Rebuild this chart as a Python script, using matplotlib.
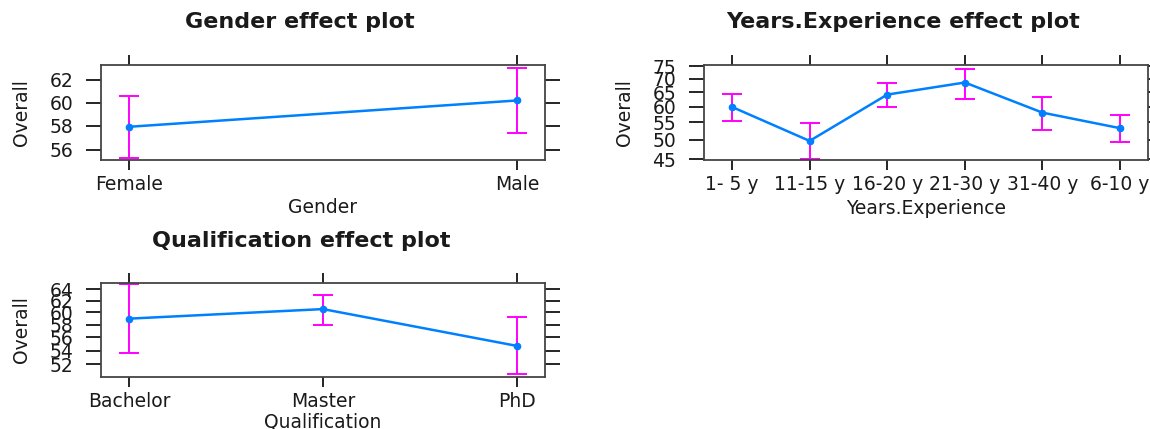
import matplotlib
matplotlib.use("Agg")
import matplotlib.pyplot as plt
from matplotlib.ticker import FixedLocator, NullLocator, FixedFormatter

# data (fit, lower, upper)
gender = ["Female", "Male"]
gender_fit = [57.92, 60.18]
gender_lo = [55.33, 57.36]
gender_hi = [60.56, 63.05]

years = ["1- 5 y", "11-15 y", "16-20 y", "21-30 y", "31-40 y", "6-10 y"]
years_fit = [59.9, 49.7, 64.1, 68.5, 58.05, 53.3]
years_lo = [55.3, 45.0, 60.0, 62.7, 52.8, 49.3]
years_hi = [64.4, 54.8, 68.5, 73.9, 63.3, 57.3]

qual = ["Bachelor", "Master", "PhD"]
qual_fit = [58.98, 60.56, 54.7]
qual_lo = [53.6, 57.95, 50.6]
qual_hi = [64.84, 63.0, 59.2]

gender_ticks = [56, 58, 60, 62]
years_ticks = [45, 50, 55, 60, 65, 70, 75]
qual_ticks = [52, 54, 56, 58, 60, 62, 64]

gender_ylim = (55.19, 63.36)
years_ylim = (44.75, 75.4)
qual_ylim = (50.24, 65.13)

plt.rcParams['font.family'] = ['DejaVu Sans']
TXT = '#1a1a1a'
FS = 13.5
H = 429

fig = plt.figure(figsize=(11.5, 4.29), dpi=100)


def effect_panel(rect, cats, fit, lo, hi, yticks, ylim, xlab, xlab_px):
    ax = fig.add_axes(rect)
    x = list(range(len(cats)))
    err = [[f - l for f, l in zip(fit, lo)], [h - f for f, h in zip(fit, hi)]]
    ax.errorbar(x, fit, yerr=err, fmt='none', ecolor='#ff00ff', elinewidth=1.4,
                capsize=7.5, capthick=1.4, zorder=2)
    ax.plot(x, fit, color='#0080ff', lw=1.8, marker='o', ms=4.5,
            mfc='#0080ff', mec='#0080ff', zorder=3)
    ax.set_yscale('log')
    ax.set_ylim(*ylim)
    ax.yaxis.set_major_locator(FixedLocator(yticks))
    ax.yaxis.set_major_formatter(FixedFormatter([str(t) for t in yticks]))
    ax.yaxis.set_minor_locator(NullLocator())
    pad = 0.072 * (len(cats) - 1)
    ax.set_xlim(-pad, len(cats) - 1 + pad)
    ax.set_xticks(x)
    ax.set_xticklabels(cats)
    ax.tick_params(axis='x', direction='out', length=7, width=1.2, pad=4,
                   top=True, labelsize=FS, labelcolor=TXT)
    ax.tick_params(axis='y', direction='out', length=11, width=1.2, pad=9,
                   right=True, labelsize=FS, labelcolor=TXT)
    for s in ax.spines.values():
        s.set_color('#444444')
        s.set_linewidth(1.3)
    # axis titles placed by pixel offset from the box
    ax.set_xlabel(xlab, fontsize=FS, color=TXT, va='center')
    ax.xaxis.set_label_coords(0.5, -xlab_px / (rect[3] * H))
    ax.set_ylabel('Overall', fontsize=FS, color=TXT, va='center')
    ax.yaxis.set_label_coords(-0.18, 0.5)
    return ax


effect_panel([0.0878, 0.627, 0.3861, 0.2214], gender, gender_fit, gender_lo,
             gender_hi, gender_ticks, gender_ylim, 'Gender', 47)
effect_panel([0.6122, 0.627, 0.3861, 0.2214], years, years_fit, years_lo,
             years_hi, years_ticks, years_ylim, 'Years.Experience', 48)
effect_panel([0.0878, 0.1219, 0.3861, 0.219], qual, qual_fit, qual_lo,
             qual_hi, qual_ticks, qual_ylim, 'Qualification', 45)

fig.text(300 / 1150, 0.949, 'Gender effect plot', ha='center', va='center',
         fontsize=16, fontweight='bold', color=TXT)
fig.text(903 / 1150, 0.949, 'Years.Experience effect plot', ha='center',
         va='center', fontsize=16, fontweight='bold', color=TXT)
fig.text(301 / 1150, 0.438, 'Qualification effect plot', ha='center',
         va='center', fontsize=16, fontweight='bold', color=TXT)

fig.savefig('out.png', dpi=100)
